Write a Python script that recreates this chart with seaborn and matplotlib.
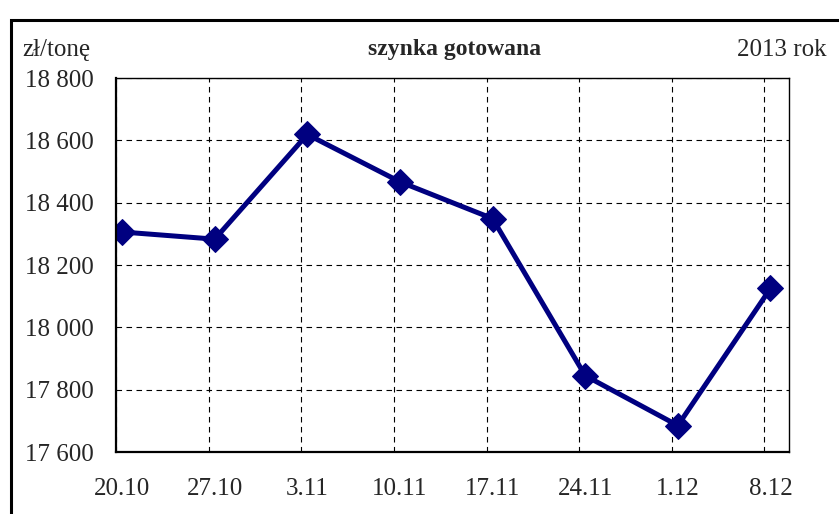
import matplotlib.pyplot as plt
import matplotlib.patches as mpatches
import numpy as np
import pandas as pd
import seaborn as sns

# dane
weeks = ["20.10", "27.10", "3.11", "10.11", "17.11", "24.11", "1.12", "8.12"]
prices = [18306, 18283, 18619, 18467, 18349, 17845, 17685, 18125]
y_ticks = [17600, 17800, 18000, 18200, 18400, 18600, 18800]
y_labels = ["17 600", "17 800", "18 000", "18 200", "18 400", "18 600", "18 800"]

TITLE = "szynka gotowana"
UNIT = "zł/tonę"
YEAR = "2013 rok"

LINE_COLOR = "#000080"
GRID_SHIFT = 0.065  # linie siatki lekko na lewo od punktow


def main() -> None:
    sns.set_style("white")
    plt.rcParams["font.family"] = ["Liberation Serif", "DejaVu Serif"]

    df = pd.DataFrame({"pos": np.arange(len(weeks)), "price": prices})

    fig = plt.figure(figsize=(8.39, 5.14), dpi=100)
    ax = fig.add_axes([0.1383, 0.1206, 0.8021, 0.7276])

    sns.lineplot(
        data=df, x="pos", y="price", ax=ax, color=LINE_COLOR, linewidth=3.6,
        marker="D", markersize=13, markeredgecolor=LINE_COLOR, zorder=5,
    )

    ax.set_xlim(-GRID_SHIFT, len(weeks) - 1 + 0.2)
    ax.set_ylim(y_ticks[0], y_ticks[-1])

    # etykiety pod punktami, kreski i siatka na tickach pomocniczych
    ax.set_xticks(df["pos"])
    ax.set_xticklabels(weeks, fontsize=18)
    ax.set_xticks(df["pos"] - GRID_SHIFT, minor=True)
    ax.tick_params(axis="x", which="major", length=0, pad=19)
    ax.tick_params(axis="x", which="minor", direction="out", length=7, width=1.2, color="black")

    ax.set_yticks(y_ticks)
    ax.set_yticklabels(y_labels, fontsize=18)
    ax.tick_params(axis="y", direction="out", length=8, width=1.2, color="black", pad=8)
    ax.set_xlabel("")
    ax.set_ylabel("")

    ax.grid(False)
    ax.grid(True, axis="x", which="minor", color="black", linestyle=(0, (5, 4)), linewidth=0.8)
    ax.grid(True, axis="y", which="major", color="black", linestyle=(0, (5, 4)), linewidth=0.8)

    for side in ["left", "bottom"]:
        ax.spines[side].set_color("black")
        ax.spines[side].set_linewidth(1.6)
        ax.spines[side].set_zorder(6)
    for side in ["top", "right"]:
        ax.spines[side].set_color("black")
        ax.spines[side].set_linewidth(1.0)

    fig.text(0.026, 0.903, UNIT, fontsize=18, va="center", ha="left")
    fig.text(0.542, 0.903, TITLE, fontsize=17, fontweight="bold", va="center", ha="center")
    fig.text(0.878, 0.903, YEAR, fontsize=18, va="center", ha="left")

    # ramka wokol wykresu
    frame = mpatches.Rectangle(
        (0.013, -0.2), 1.2, 0.2 + 0.961, transform=fig.transFigure,
        fill=False, edgecolor="black", linewidth=2.2,
    )
    fig.add_artist(frame)

    fig.savefig("out.png", dpi=100)
    plt.close(fig)


if __name__ == "__main__":
    main()
